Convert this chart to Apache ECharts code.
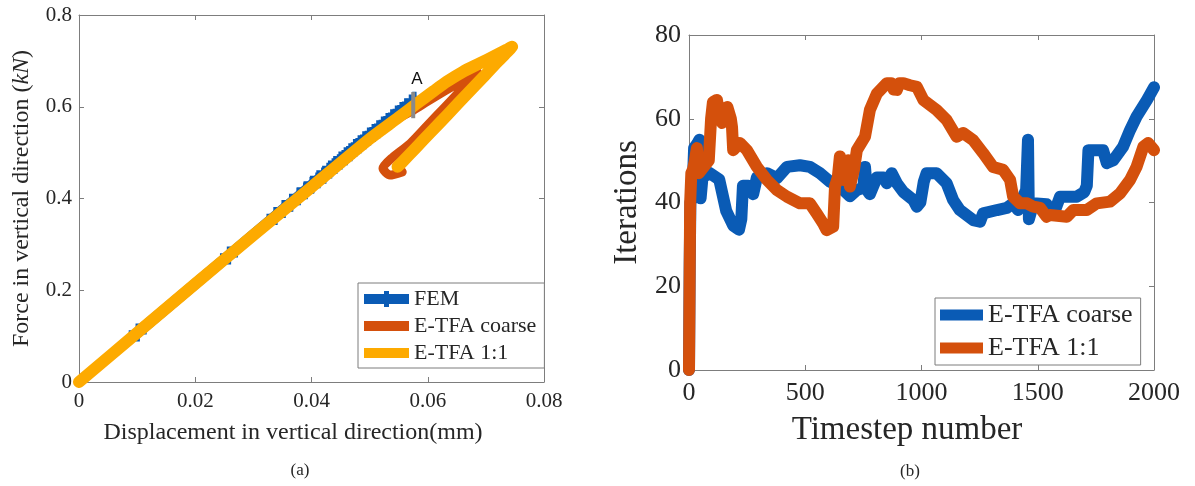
<!DOCTYPE html>
<html><head><meta charset="utf-8">
<script src="https://cdn.jsdelivr.net/npm/echarts@6/dist/echarts.min.js"></script>
<style>html,body{margin:0;padding:0;background:#fff}#c{width:1195px;height:486px}</style>
</head><body><div id="c"></div>
<script>
// ---------- (a) Force vs displacement ----------
const femDisp  = [0.0101, 0.0258, 0.0338, 0.0352, 0.0365, 0.0378, 0.039, 0.0401, 0.0412, 0.0422, 0.0432, 0.0441, 0.045, 0.0459, 0.0467, 0.0475, 0.0483, 0.0491, 0.0499, 0.0507, 0.0515, 0.0523, 0.0531, 0.0539, 0.0547, 0.0555, 0.0563, 0.0571, 0.0577];
const femForce = [0.108, 0.276, 0.362, 0.377, 0.391, 0.405, 0.418, 0.430, 0.442, 0.452, 0.463, 0.473, 0.483, 0.492, 0.501, 0.510, 0.518, 0.527, 0.535, 0.543, 0.551, 0.559, 0.567, 0.575, 0.583, 0.591, 0.599, 0.607, 0.613];
const coarseDisp  = [0, 0.01, 0.02, 0.03, 0.04, 0.05, 0.055, 0.0575, 0.06, 0.063, 0.066, 0.0685, 0.0682, 0.066, 0.063, 0.06, 0.057, 0.054, 0.0523, 0.0535, 0.0556];
const coarseForce = [0, 0.107, 0.214, 0.32, 0.425, 0.53, 0.575, 0.592, 0.612, 0.635, 0.657, 0.676, 0.67, 0.64, 0.60, 0.56, 0.52, 0.49, 0.466, 0.451, 0.458];
const fineDisp  = [0, 0.01, 0.02, 0.03, 0.04, 0.05, 0.055, 0.058, 0.061, 0.0633, 0.066, 0.069, 0.0715, 0.0735, 0.0745, 0.0742, 0.072, 0.0695, 0.0667, 0.0635, 0.0604, 0.058, 0.0555, 0.0548];
const fineForce = [0, 0.107, 0.214, 0.32, 0.425, 0.53, 0.577, 0.606, 0.634, 0.655, 0.676, 0.695, 0.711, 0.724, 0.731, 0.726, 0.698, 0.664, 0.627, 0.584, 0.543, 0.511, 0.478, 0.469];
const markerADisp  = [0.0575, 0.0575];
const markerAForce = [0.575, 0.632];
const markerAText = 'A';

// ---------- (b) Iterations vs timestep ----------
const coarseStep = [0, 3, 6, 14, 22, 35, 45, 50, 58, 90, 130, 160, 190, 215, 225, 232, 255, 276, 292, 335, 378, 421, 477, 520, 563, 606, 649, 692, 722, 750, 757, 765, 778, 808, 837, 851, 872, 894, 922, 965, 980, 995, 1010, 1022, 1065, 1108, 1136, 1165, 1222, 1252, 1265, 1325, 1367, 1394, 1415, 1437, 1450, 1458, 1462, 1481, 1538, 1552, 1570, 1596, 1668, 1700, 1711, 1718, 1781, 1797, 1825, 1867, 1897, 1925, 1970, 2000];
const coarseIter = [0, 25, 40, 41, 53, 54, 55, 41, 46, 47, 45.5, 38, 34.5, 33.5, 36, 44, 44, 42, 46, 47, 45.8, 48.5, 48.9, 48.5, 47, 45, 43.8, 41.5, 43, 43.5, 48.5, 43, 42, 46, 46, 44.6, 47, 44.6, 42.5, 40.6, 39, 40, 45, 47, 47, 44.6, 40.6, 38.2, 35.8, 35.4, 37.4, 38.2, 38.7, 39.8, 38.2, 41.4, 43, 55, 36, 39.8, 39.6, 37, 37.5, 41.4, 41.4, 42.5, 44, 52.5, 52.5, 49.4, 50.1, 53.3, 57.3, 60.5, 64.5, 67.5];
const fineStep = [0, 5, 10, 18, 25, 34, 42, 50, 85, 95, 103, 120, 135, 142, 155, 165, 180, 185, 190, 219, 249, 292, 335, 378, 421, 477, 520, 549, 577, 592, 620, 628, 640, 649, 655, 663, 675, 685, 692, 710, 722, 757, 778, 808, 851, 870, 880, 894, 905, 922, 950, 980, 1008, 1065, 1108, 1151, 1179, 1222, 1265, 1308, 1351, 1381, 1394, 1424, 1454, 1481, 1510, 1538, 1552, 1625, 1653, 1711, 1754, 1811, 1854, 1897, 1925, 1954, 1975, 2000];
const fineIter = [0, 40, 47, 48, 50, 53, 47, 47, 50, 60, 64, 64.5, 60, 59, 62.5, 62.8, 60, 58, 52.5, 54.2, 52.5, 48.5, 45.4, 43, 41.4, 39.8, 39.8, 37.4, 35, 33.4, 34.2, 43.8, 46, 51, 46, 45.4, 48, 50.1, 43.8, 48, 52.5, 55.7, 62.1, 66, 68.5, 68.5, 67, 66.9, 68.5, 68.5, 68, 67.6, 64.5, 62.1, 59.7, 55.7, 56.6, 54.9, 51.8, 48.5, 47.8, 45.4, 41.4, 39.8, 39.8, 39, 38.7, 36.6, 37, 36.6, 38.2, 38.2, 39.8, 40.2, 42.2, 45.4, 48.5, 53.3, 54.2, 52.5];

const legendA = ['FEM', 'E-TFA coarse', 'E-TFA 1:1'];
const legendB = ['E-TFA coarse', 'E-TFA 1:1'];
const axisTitles = {
  ax: 'Displacement in vertical direction(mm)',
  ay: 'Force in vertical direction ',
  ayUnit: 'kN',
  bx: 'Timestep number',
  by: 'Iterations',
  a: '(a)', b: '(b)'
};

// ---------- styles ----------
const BLUE = '#0a5bb5', RED = '#d4500c', ORANGE = '#fdaa00';
const GRAY = '#7d7d7d', TXT = '#262626';
const SERIF = '"Liberation Serif", "Times New Roman", serif';
const pairs = (xs, ys) => xs.map((x, i) => [x, ys[i]]);
const plainNum = v => String(Math.round(v * 1e6) / 1e6);

function xAxis(grid, pos, min, max, interval, fs, margin) {
  return {
    type: 'value', gridIndex: grid, position: pos, min, max, interval,
    axisLine: { show: true, onZero: false, lineStyle: { color: GRAY, width: 1 } },
    axisTick: { show: true, inside: true, length: 5, lineStyle: { color: GRAY } },
    axisLabel: { show: pos === 'bottom', margin, color: TXT, fontFamily: SERIF, fontSize: fs, formatter: plainNum },
    splitLine: { show: false }
  };
}
function yAxis(grid, pos, min, max, interval, fs, margin, name, nameGap, nameFs, rich) {
  return {
    type: 'value', gridIndex: grid, position: pos, min, max, interval,
    name: name || '', nameLocation: 'middle', nameGap: nameGap || 0,
    nameTextStyle: { color: TXT, fontFamily: SERIF, fontSize: nameFs || 12, rich: rich || {} },
    axisLine: { show: true, onZero: false, lineStyle: { color: GRAY, width: 1 } },
    axisTick: { show: true, inside: true, length: 5, lineStyle: { color: GRAY } },
    axisLabel: { show: pos === 'left', margin, color: TXT, fontFamily: SERIF, fontSize: fs, formatter: plainNum },
    splitLine: { show: false }
  };
}

const plusIcon = 'path://M0,3H20V0H25V3H45V13H25V16H20V13H0Z';
const barIcon = 'path://M0,0M45,16M0,3H45V13H0Z';
const plusSymbol = 'path://M3.8,0H6.2V3.8H10V6.2H6.2V10H3.8V6.2H0V3.8H3.8Z';

const option = {
  animation: false,
  backgroundColor: '#fff',
  grid: [
    { left: 79, top: 15, width: 465, height: 367 },
    { left: 689, top: 35, width: 465, height: 335 }
  ],
  xAxis: [
    xAxis(0, 'bottom', 0, 0.08, 0.02, 21, 9),
    xAxis(0, 'top', 0, 0.08, 0.02, 21, 9),
    xAxis(1, 'bottom', 0, 2000, 500, 26, 10),
    xAxis(1, 'top', 0, 2000, 500, 26, 10)
  ],
  yAxis: [
    yAxis(0, 'left', 0, 0.8, 0.2, 21, 7, '{t|' + axisTitles.ay + '(}{i|' + axisTitles.ayUnit + '}{t|)}', 45, 24,
      { t: { fontFamily: SERIF, fontSize: 24, color: TXT }, i: { fontFamily: SERIF, fontSize: 24, fontStyle: 'italic', color: TXT } }),
    yAxis(0, 'right', 0, 0.8, 0.2, 21, 7),
    yAxis(1, 'left', 0, 80, 20, 26, 8, axisTitles.by, 45, 33),
    yAxis(1, 'right', 0, 80, 20, 26, 8)
  ],
  legend: [
    {
      orient: 'vertical', left: 358, top: 283,
      data: [
        { name: 'FEM', icon: plusIcon },
        { name: 'E-TFA coarse', icon: barIcon },
        { name: 'E-TFA 1:1', icon: barIcon }
      ],
      formatter: n => legendA[['FEM', 'E-TFA coarse', 'E-TFA 1:1'].indexOf(n)],
      itemWidth: 45, itemHeight: 16, itemGap: 5,
      padding: [5, 8, 4, 6],
      itemStyle: { borderWidth: 0 },
      backgroundColor: '#fff', borderColor: GRAY, borderWidth: 1, borderRadius: 0,
      textStyle: { fontFamily: SERIF, fontSize: 22, lineHeight: 22, color: TXT },
      selectedMode: false
    },
    {
      orient: 'vertical', left: 935, top: 298,
      data: [{ name: 'rCoarse', icon: 'rect' }, { name: 'rFine', icon: 'rect' }],
      formatter: n => legendB[['rCoarse', 'rFine'].indexOf(n)],
      itemWidth: 43, itemHeight: 11, itemGap: 7,
      padding: [4, 8, 4, 5],
      itemStyle: { borderWidth: 0 },
      backgroundColor: '#fff', borderColor: GRAY, borderWidth: 1, borderRadius: 0,
      textStyle: { fontFamily: SERIF, fontSize: 26, lineHeight: 26, color: TXT },
      selectedMode: false
    }
  ],
  series: [
    {
      name: 'FEM', type: 'line', xAxisIndex: 0, yAxisIndex: 0,
      data: pairs(femDisp, femForce),
      showSymbol: true, showAllSymbol: true, symbol: plusSymbol, symbolSize: 18,
      itemStyle: { color: BLUE, borderWidth: 0 },
      lineStyle: { color: BLUE, width: 11, cap: 'round', join: 'round' },
      z: 2
    },
    {
      name: 'E-TFA coarse', type: 'line', xAxisIndex: 0, yAxisIndex: 0,
      data: pairs(coarseDisp, coarseForce), showSymbol: false, smooth: 0.25,
      itemStyle: { color: RED },
      lineStyle: { color: RED, width: 9, cap: 'round', join: 'round' }, z: 3
    },
    {
      name: 'E-TFA 1:1', type: 'line', xAxisIndex: 0, yAxisIndex: 0,
      data: pairs(fineDisp, fineForce), showSymbol: false, smooth: 0.25,
      itemStyle: { color: ORANGE },
      lineStyle: { color: ORANGE, width: 12, cap: 'round', join: 'round' }, z: 4
    },
    {
      name: 'markerA', type: 'line', xAxisIndex: 0, yAxisIndex: 0,
      data: pairs(markerADisp, markerAForce), showSymbol: false,
      lineStyle: { color: '#8a8a8a', width: 4 }, z: 5,
      endLabel: { show: true, formatter: markerAText, color: '#111', fontFamily: '"Liberation Sans", Arial, sans-serif', fontSize: 17, offset: [-10, -13] }
    },
    {
      name: 'rCoarse', type: 'line', xAxisIndex: 2, yAxisIndex: 2,
      data: pairs(coarseStep, coarseIter), showSymbol: false,
      itemStyle: { color: BLUE },
      lineStyle: { color: BLUE, width: 12, cap: 'round', join: 'round' }, z: 2
    },
    {
      name: 'rFine', type: 'line', xAxisIndex: 2, yAxisIndex: 2,
      data: pairs(fineStep, fineIter), showSymbol: false,
      itemStyle: { color: RED },
      lineStyle: { color: RED, width: 12, cap: 'round', join: 'round' }, z: 3
    }
  ],
  graphic: [
    { type: 'text', x: 293, y: 433, style: { text: axisTitles.ax, fill: TXT, font: '24px ' + SERIF, textAlign: 'center', textVerticalAlign: 'middle' } },
    { type: 'text', x: 907, y: 430, style: { text: axisTitles.bx, fill: TXT, font: '33px ' + SERIF, textAlign: 'center', textVerticalAlign: 'middle' } },
    { type: 'text', x: 300, y: 471, style: { text: axisTitles.a, fill: TXT, font: '17px ' + SERIF, textAlign: 'center', textVerticalAlign: 'middle' } },
    { type: 'text', x: 910, y: 472, style: { text: axisTitles.b, fill: TXT, font: '17px ' + SERIF, textAlign: 'center', textVerticalAlign: 'middle' } }
  ]
};
const chart = echarts.init(document.getElementById('c'), null, { renderer: 'canvas' });
chart.setOption(option);
</script>
</body></html>
